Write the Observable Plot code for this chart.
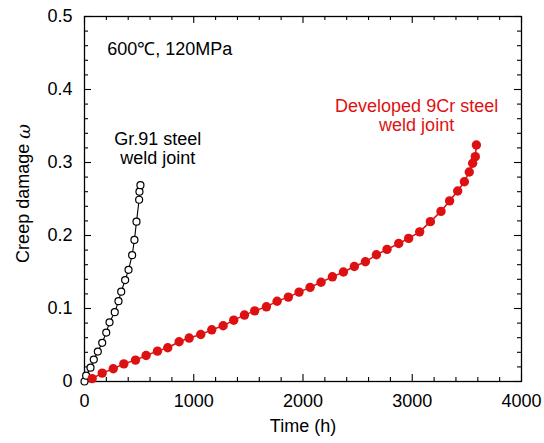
<!DOCTYPE html>
<html><head><meta charset="utf-8">
<script src="https://cdn.jsdelivr.net/npm/d3@7"></script>
<script src="https://cdn.jsdelivr.net/npm/@observablehq/plot@0.6"></script>
<style>
body{margin:0;background:#fff;}
#chart svg{font-family:"Liberation Sans",Arial,Helvetica,sans-serif;}
</style>
</head><body><div id="chart"></div>
<script>
// Gr.91 steel weld joint (open circles)
const grTime = [0, 15, 55, 85, 122, 162, 199, 229, 277, 311, 336, 372, 403, 436, 457, 476, 500, 503, 512];
const grDamage = [0, 0.008, 0.019, 0.030, 0.041, 0.053, 0.067, 0.081, 0.095, 0.110, 0.123, 0.139, 0.153, 0.173, 0.194, 0.219, 0.249, 0.260, 0.269];
// Developed 9Cr steel weld joint (filled red circles)
const devTime = [70, 162, 263, 360, 467, 564, 668, 762, 866, 958, 1064, 1165, 1269, 1366, 1464, 1558, 1665, 1763, 1866, 1964, 2065, 2165, 2269, 2370, 2470, 2571, 2672, 2769, 2876, 2967, 3068, 3166, 3263, 3342, 3416, 3477, 3522, 3553, 3577, 3587];
const devDamage = [0.004, 0.0115, 0.0174, 0.0242, 0.0293, 0.0356, 0.0416, 0.0462, 0.0544, 0.0595, 0.0644, 0.0708, 0.0763, 0.0840, 0.091, 0.0968, 0.1023, 0.110, 0.1156, 0.1225, 0.129, 0.136, 0.1434, 0.150, 0.1575, 0.164, 0.1736, 0.181, 0.189, 0.196, 0.205, 0.219, 0.233, 0.2475, 0.261, 0.2736, 0.287, 0.299, 0.308, 0.324];

const xTicks = [0, 1000, 2000, 3000, 4000];
const xMinor = [200, 400, 600, 800, 1200, 1400, 1600, 1800, 2200, 2400, 2600, 2800, 3200, 3400, 3600, 3800];
const yTicks = [0, 0.1, 0.2, 0.3, 0.4, 0.5];
const yMinor = [0.02, 0.04, 0.06, 0.08, 0.12, 0.14, 0.16, 0.18, 0.22, 0.24, 0.26, 0.28, 0.32, 0.34, 0.36, 0.38, 0.42, 0.44, 0.46, 0.48];

const conditionLabel = [{x: 208, y: 0.455, text: "600\u2103, 120MPa"}];
const seriesLabels = [
  {x: 670, y: 0.319, text: "Gr.91 steel\nweld joint", color: "black"},
  {x: 3040, y: 0.364, text: "Developed 9Cr steel\nweld joint", color: "#dd1111"}
];

const gr = grTime.map((t, i) => ({t, d: grDamage[i]}));
const dev = devTime.map((t, i) => ({t, d: devDamage[i]}));

const W = 544, H = 443, mL = 84, mR = 23, mT = 16, mB = 62;
const pw = W - mL - mR, ph = H - mT - mB;
const red = "#dd1111";
const FS = 18;

const svg = Plot.plot({
  width: W, height: H,
  marginLeft: mL, marginRight: mR, marginTop: mT, marginBottom: mB,
  style: {fontSize: FS + "px", fontFamily: "'Liberation Sans', Arial, Helvetica, sans-serif", background: "white", color: "black"},
  x: {domain: [0, 4000]},
  y: {domain: [0, 0.5]},
  marks: [
    Plot.axisX(xTicks, {tickSize: 0, tickPadding: 13, label: null, tickFormat: d => String(d), fontSize: FS}),
    Plot.axisY(yTicks, {tickSize: 0, tickPadding: 12, label: null, tickFormat: d => d === 0 ? "0" : d.toFixed(1), fontSize: FS}),
    // inward ticks on all four sides
    Plot.ruleX(xMinor, {x: d => d, insetTop: ph - 4, strokeWidth: 1.1}),
    Plot.ruleX(xTicks, {x: d => d, insetTop: ph - 7, strokeWidth: 1.1}),
    Plot.ruleX(xMinor, {x: d => d, insetBottom: ph - 4, strokeWidth: 1.1}),
    Plot.ruleX(xTicks, {x: d => d, insetBottom: ph - 7, strokeWidth: 1.1}),
    Plot.ruleY(yMinor, {y: d => d, insetRight: pw - 4, strokeWidth: 1.1}),
    Plot.ruleY(yTicks, {y: d => d, insetRight: pw - 7, strokeWidth: 1.1}),
    Plot.ruleY(yMinor, {y: d => d, insetLeft: pw - 4, strokeWidth: 1.1}),
    Plot.ruleY(yTicks, {y: d => d, insetLeft: pw - 7, strokeWidth: 1.1}),
    Plot.frame({stroke: "black", strokeWidth: 1.3}),
    // Gr.91
    Plot.line(gr, {x: "t", y: "d", stroke: "black", strokeWidth: 1.1}),
    Plot.dot(gr, {x: "t", y: "d", r: 3.5, stroke: "black", fill: "white", strokeWidth: 1.2}),
    // Developed 9Cr
    Plot.line(dev, {x: "t", y: "d", stroke: red, strokeWidth: 1.5}),
    Plot.dot(dev, {x: "t", y: "d", r: 4.7, fill: red, stroke: "none"}),
    // annotations
    Plot.text(conditionLabel, {x: "x", y: "y", text: "text", textAnchor: "start", fill: "black", fontSize: FS}),
    Plot.text(seriesLabels, {x: "x", y: "y", text: "text", textAnchor: "middle", fill: "color", fontSize: FS, lineHeight: 1.05}),
    Plot.text(["Time (h)"], {frameAnchor: "bottom", dy: 50, fontSize: FS, fill: "black"})
  ]
});

// y-axis label with italic omega
const s = d3.select(svg);
const lab = s.append("text")
  .attr("transform", `translate(23,${mT + ph / 2 - 5}) rotate(-90)`)
  .attr("text-anchor", "middle")
  .attr("dominant-baseline", "central")
  .attr("font-size", FS)
  .attr("fill", "black");
lab.append("tspan").text("Creep damage ");
lab.append("tspan").attr("font-style", "italic").attr("font-family", "'DejaVu Serif', serif").text("\u03C9");

document.getElementById("chart").appendChild(svg);
</script>
</body></html>
